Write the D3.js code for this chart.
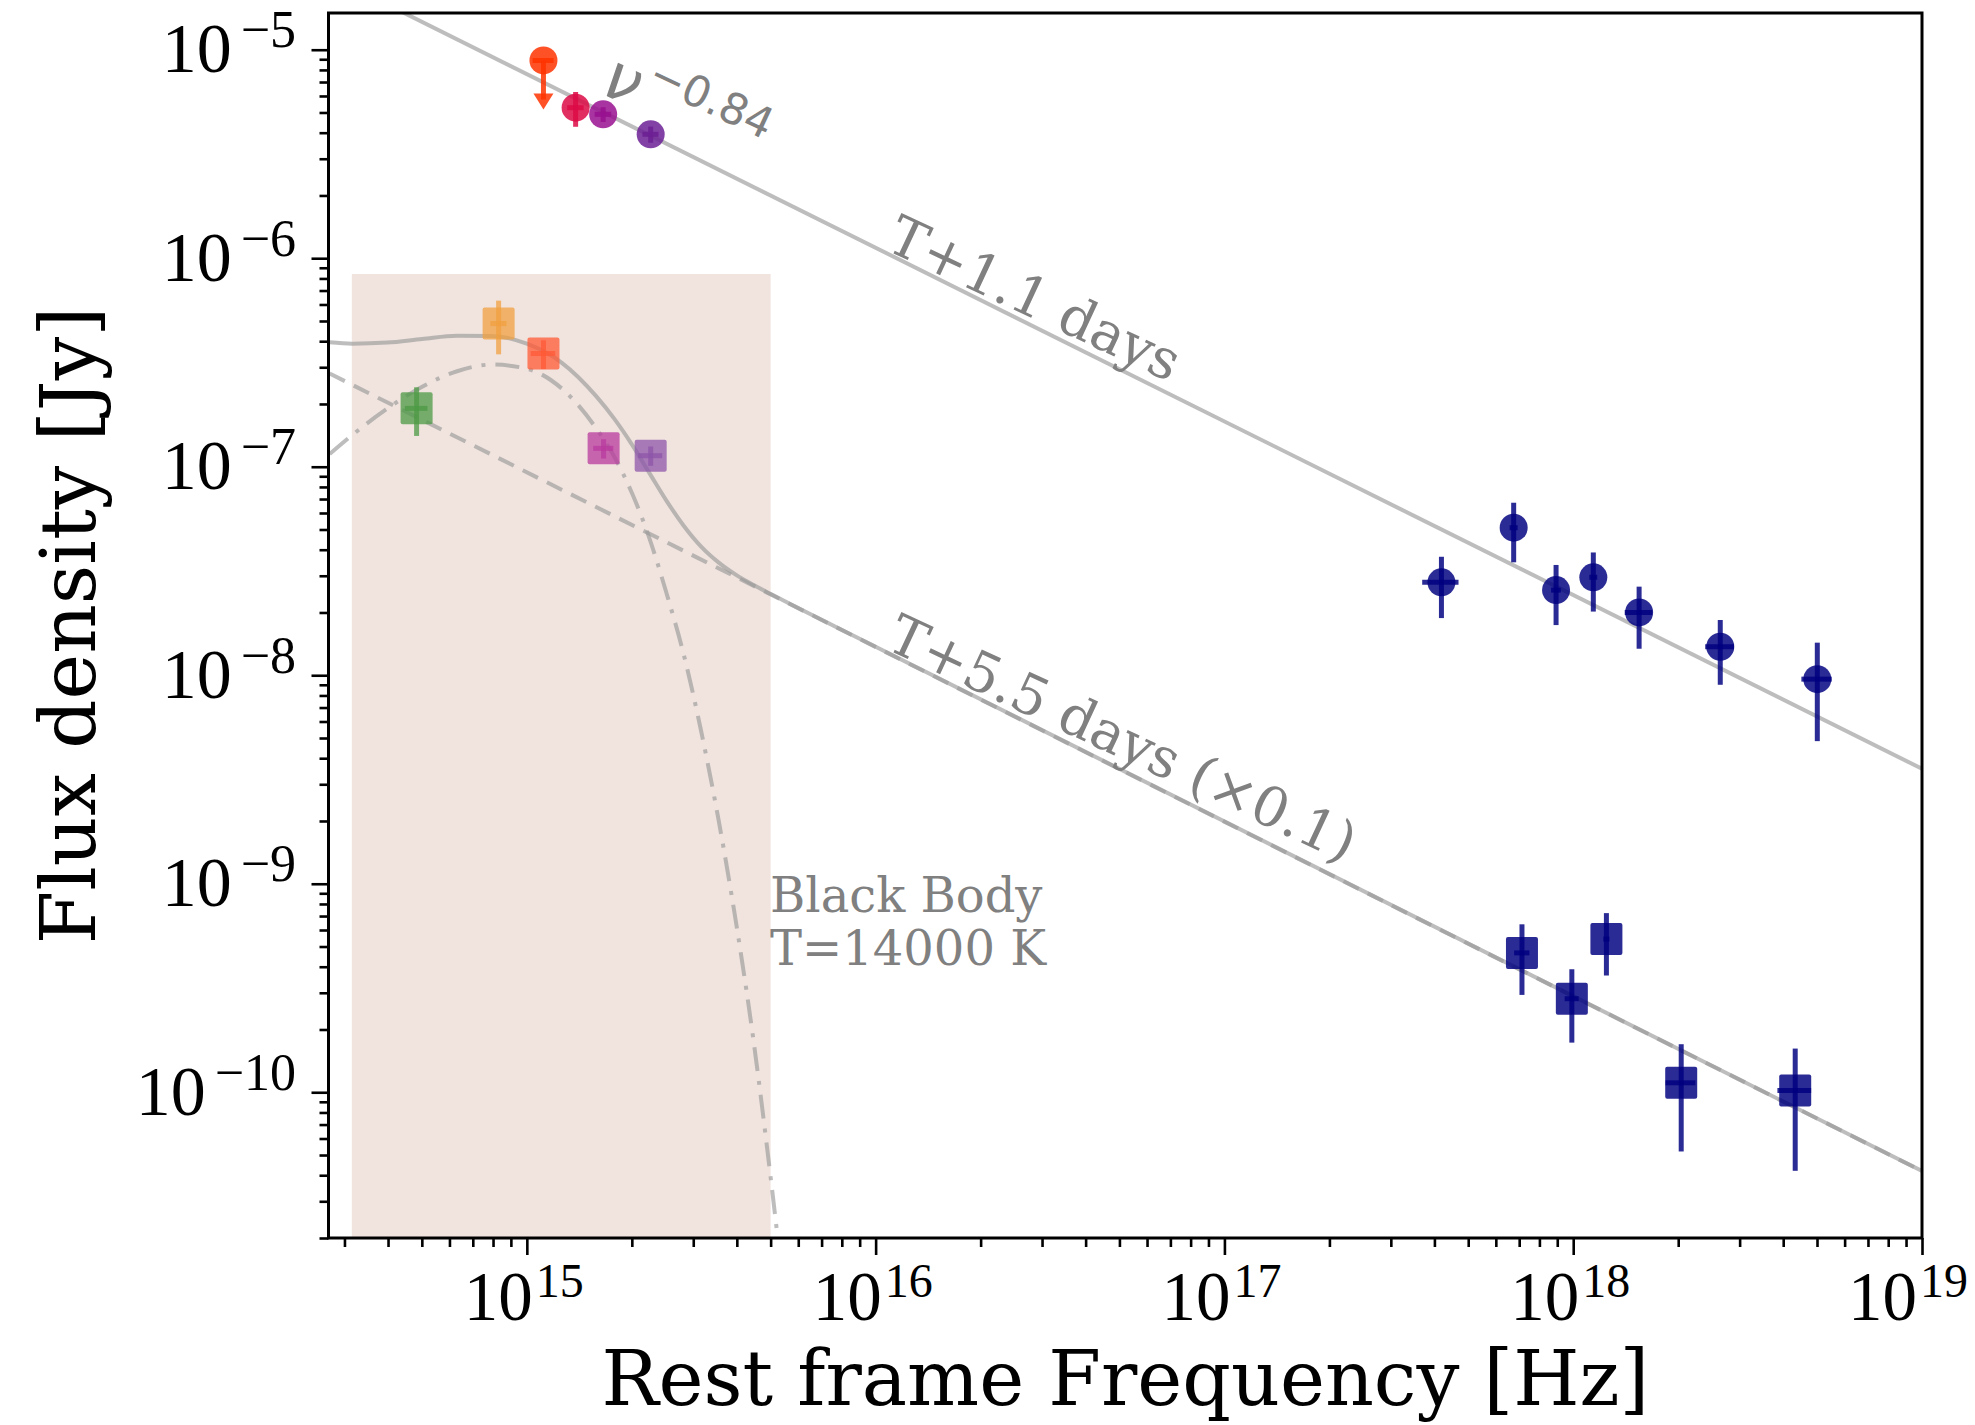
<!DOCTYPE html>
<html><head><meta charset="utf-8">
<script src="https://cdn.jsdelivr.net/npm/d3@7"></script>
<style>body{margin:0;background:#fff} svg{display:block}</style>
</head><body><svg id="c" width="1975" height="1425"></svg>
<script>
// ---------------- data ----------------
const xDomain = [2.7e14, 1e19];
const yDomain = [1.5e-5, 2e-11];
const xTickExps = [15, 16, 17, 18, 19];
const yTickExps = [-5, -6, -7, -8, -9, -10];

// optical / UV photometry, T+1.1 days (circles)
const optNu    = [1.116e15, 1.38e15, 1.655e15, 2.265e15];
const optFlux  = [8.88e-6, 5.27e-6, 4.90e-6, 3.93e-6];
const optErr   = [3.6e-6, 1.0e-6, 4.0e-7, 3.5e-7];
const optXErr  = [7.7e13, 7.5e13, 9.0e13, 1.2e14];
const optUL    = [true, false, false, false];
const optColor = ["#ff3300", "#dc0a46", "#98108f", "#6c2094"];

// optical / UV photometry, T+5.5 days (squares)
const lateNu    = [4.83e14, 8.30e14, 1.116e15, 1.66e15, 2.265e15];
const lateFlux  = [1.905e-7, 4.86e-7, 3.49e-7, 1.225e-7, 1.13e-7];
const lateErr   = [5.0e-8, 1.4e-7, 5.5e-8, 1.3e-8, 1.2e-8];
const lateXErr  = [3.6e13, 4.4e13, 9.0e13, 1.1e14, 1.8e14];
const lateColor = ["#4c9a44", "#f0a040", "#ff5a36", "#b8399e", "#8d55a8"];

// X-ray, T+1.1 days (circles)
const xr1Nu   = [4.19e17, 6.75e17, 8.93e17, 1.142e18, 1.545e18, 2.64e18, 5.01e18];
const xr1Flux = [2.79e-8, 5.10e-8, 2.56e-8, 2.95e-8, 2.00e-8, 1.37e-8, 9.58e-9];
const xr1Err  = [9.1e-9, 1.62e-8, 8.2e-9, 9.3e-9, 6.6e-9, 4.7e-9, 4.75e-9];
const xr1XErr = [5.0e16, 1.8e16, 2.9e16, 3.0e16, 1.4e17, 2.5e17, 5.0e17];

// X-ray, T+5.5 days x0.1 (squares)
const xr2Nu   = [7.13e17, 9.91e17, 1.245e18, 2.04e18, 4.33e18];
const xr2Flux = [4.66e-10, 2.81e-10, 5.43e-10, 1.11e-10, 1.02e-10];
const xr2Err  = [1.73e-10, 1.08e-10, 1.8e-10, 5.9e-11, 6.0e-11];
const xr2XErr = [3.6e16, 4.6e16, 2.5e16, 2.0e17, 4.8e17];

// model: power law T+1.1 days
const pl1Nu   = [2.72e14, 1e19];
const pl1Flux = [2.26e-5, 3.56e-9];
// model: power law T+5.5 days (x0.1)
const pl2Nu   = [2.72e14, 1e19];
const pl2Flux = [2.80e-7, 4.19e-11];
// model: black body T=14000 K
const bbNu   = [2.72e14, 3.16e14, 3.98e14, 5.01e14, 6.31e14, 7.94e14, 1.0e15, 1.26e15, 1.58e15, 1.78e15, 2.0e15, 2.24e15, 2.51e15, 2.82e15, 3.16e15, 3.55e15, 3.98e15, 4.47e15, 5.01e15, 5.37e15];
const bbFlux = [1.15e-7, 1.42e-7, 1.90e-7, 2.42e-7, 2.87e-7, 3.09e-7, 2.95e-7, 2.37e-7, 1.53e-7, 1.12e-7, 7.5e-8, 4.6e-8, 2.5e-8, 1.25e-8, 5.4e-9, 2.0e-9, 6.5e-10, 1.75e-10, 3.8e-11, 1.4e-11];
// model: total (power law + black body)
const totNu   = [2.72e14, 3.16e14, 3.98e14, 5.01e14, 6.31e14, 7.94e14, 1.0e15, 1.26e15, 1.58e15, 1.78e15, 2.0e15, 2.24e15, 2.51e15, 2.82e15, 3.16e15, 3.55e15, 3.98e15, 4.47e15, 5.01e15, 1.0e16, 1.0e19];
const totFlux = [3.95e-7, 3.89e-7, 3.94e-7, 4.10e-7, 4.25e-7, 4.24e-7, 3.89e-7, 3.15e-7, 2.18e-7, 1.70e-7, 1.28e-7, 9.4e-8, 6.9e-8, 5.2e-8, 4.14e-8, 3.47e-8, 3.03e-8, 2.71e-8, 2.45e-8, 1.37e-8, 4.19e-11];

// shaded black-body region
const bbRegionNu = [3.15e14, 5.0e15];
const bbRegionTop = 8.4e-7;

// ---------------- drawing ----------------
const svg = d3.select("#c");
const P = {l: 328.5, r: 1922, t: 13, b: 1238};
const x = d3.scaleLog().domain(xDomain).range([P.l, P.r]);
const y = d3.scaleLog().domain(yDomain).range([P.t, P.b]);

svg.append("rect").attr("width", 1975).attr("height", 1425).attr("fill", "#fff");
svg.append("defs").append("clipPath").attr("id", "clip")
  .append("rect").attr("x", P.l).attr("y", P.t).attr("width", P.r - P.l).attr("height", P.b - P.t);

const plotG = svg.append("g").attr("clip-path", "url(#clip)");

// shaded region
plotG.append("rect")
  .attr("x", x(bbRegionNu[0])).attr("width", x(bbRegionNu[1]) - x(bbRegionNu[0]))
  .attr("y", y(bbRegionTop)).attr("height", P.b - y(bbRegionTop))
  .attr("fill", "#f1e4df");

const lineGen = d3.line().x(d => x(d[0])).y(d => y(d[1]));
const curveGen = d3.line().x(d => x(d[0])).y(d => y(d[1])).curve(d3.curveMonotoneX);
const zip = (a, b) => a.map((v, i) => [v, b[i]]);
const LC = "#999999", LO = 0.65, LW = 4;

plotG.append("path").datum(zip(pl1Nu, pl1Flux)).attr("d", lineGen)
  .attr("fill", "none").attr("stroke", LC).attr("stroke-opacity", LO).attr("stroke-width", LW);
plotG.append("path").datum(zip(pl2Nu, pl2Flux)).attr("d", lineGen)
  .attr("fill", "none").attr("stroke", LC).attr("stroke-opacity", LO).attr("stroke-width", LW)
  .attr("stroke-dasharray", "17,10");
plotG.append("path").datum(zip(bbNu, bbFlux)).attr("d", curveGen)
  .attr("fill", "none").attr("stroke", LC).attr("stroke-opacity", LO).attr("stroke-width", LW)
  .attr("stroke-dasharray", "24,10,4,10");
plotG.append("path").datum(zip(totNu, totFlux)).attr("d", curveGen)
  .attr("fill", "none").attr("stroke", LC).attr("stroke-opacity", LO).attr("stroke-width", LW);

// points
const ptG = svg.append("g");
function errBars(nu, f, ye, xe, color, op) {
  ptG.append("line").attr("x1", x(nu)).attr("x2", x(nu))
    .attr("y1", y(f + ye)).attr("y2", y(Math.max(f - ye, 1e-13)))
    .attr("stroke", color).attr("stroke-opacity", op).attr("stroke-width", 5);
  ptG.append("line").attr("x1", x(nu - xe)).attr("x2", x(nu + xe))
    .attr("y1", y(f)).attr("y2", y(f))
    .attr("stroke", color).attr("stroke-opacity", op).attr("stroke-width", 5);
}
function circle(nu, f, color, op) {
  ptG.append("circle").attr("cx", x(nu)).attr("cy", y(f)).attr("r", 14)
    .attr("fill", color).attr("fill-opacity", op);
}
function square(nu, f, color, op) {
  const s = 32;
  ptG.append("rect").attr("x", x(nu) - s / 2).attr("y", y(f) - s / 2)
    .attr("width", s).attr("height", s).attr("rx", 2)
    .attr("fill", color).attr("fill-opacity", op);
}

// late optical squares
lateNu.forEach((nu, i) => {
  square(nu, lateFlux[i], lateColor[i], 0.75);
  errBars(nu, lateFlux[i], lateErr[i], lateXErr[i], lateColor[i], 0.75);
});
// early optical circles
optNu.forEach((nu, i) => {
  circle(nu, optFlux[i], optColor[i], 0.85);
  if (optUL[i]) {
    const cx = x(nu), y0 = y(optFlux[i]), y1 = y(optFlux[i] - optErr[i]);
    ptG.append("line").attr("x1", cx).attr("x2", cx).attr("y1", y0).attr("y2", y1 - 8)
      .attr("stroke", optColor[i]).attr("stroke-opacity", 0.85).attr("stroke-width", 5);
    ptG.append("line").attr("x1", x(nu - optXErr[i])).attr("x2", x(nu + optXErr[i])).attr("y1", y0).attr("y2", y0)
      .attr("stroke", optColor[i]).attr("stroke-opacity", 0.85).attr("stroke-width", 5);
    ptG.append("path").attr("d", `M${cx - 10},${y1 - 14} L${cx + 10},${y1 - 14} L${cx},${y1 + 2} Z`)
      .attr("fill", optColor[i]).attr("fill-opacity", 0.85);
  } else {
    errBars(nu, optFlux[i], optErr[i], optXErr[i], optColor[i], 0.85);
  }
});
// X-ray
xr1Nu.forEach((nu, i) => {
  circle(nu, xr1Flux[i], "#000080", 0.83);
  errBars(nu, xr1Flux[i], xr1Err[i], xr1XErr[i], "#000080", 0.83);
});
xr2Nu.forEach((nu, i) => {
  square(nu, xr2Flux[i], "#000080", 0.83);
  errBars(nu, xr2Flux[i], xr2Err[i], xr2XErr[i], "#000080", 0.83);
});

// ---------------- axes ----------------
function minorTicks(dom) {
  const out = [];
  const lo = Math.floor(Math.log10(Math.min(...dom))), hi = Math.ceil(Math.log10(Math.max(...dom)));
  for (let e = lo; e <= hi; e++) for (let m = 2; m <= 9; m++) {
    const v = m * Math.pow(10, e);
    if (v >= Math.min(...dom) && v <= Math.max(...dom)) out.push(v);
  }
  return out;
}
const xMajor = xTickExps.map(e => Math.pow(10, e));
const yMajor = yTickExps.map(e => Math.pow(10, e));

function styleAxis(g) {
  g.select(".domain").remove();
  g.selectAll(".tick line").attr("stroke", "#000").attr("stroke-width", 2.6);
  g.selectAll(".tick text").remove();
}
svg.append("g").attr("transform", `translate(0,${P.b})`)
  .call(d3.axisBottom(x).tickValues(minorTicks(xDomain)).tickSize(9).tickFormat(() => "")).call(styleAxis);
svg.append("g").attr("transform", `translate(0,${P.b})`)
  .call(d3.axisBottom(x).tickValues(xMajor).tickSize(17).tickFormat(() => "")).call(styleAxis);
svg.append("g").attr("transform", `translate(${P.l},0)`)
  .call(d3.axisLeft(y).tickValues(minorTicks(yDomain)).tickSize(9).tickFormat(() => "")).call(styleAxis);
svg.append("g").attr("transform", `translate(${P.l},0)`)
  .call(d3.axisLeft(y).tickValues(yMajor).tickSize(17).tickFormat(() => "")).call(styleAxis);

// tick labels
const TF = "'Liberation Serif', 'Times New Roman', serif";
xTickExps.forEach((e, i) => {
  const last = i === xTickExps.length - 1;
  const t = svg.append("text").attr("x", x(xMajor[i]) - (last ? 14 : 3)).attr("y", 1320)
    .attr("text-anchor", "middle").attr("font-family", TF).attr("fill", "#000");
  t.append("tspan").attr("font-size", 69).text("10");
  t.append("tspan").attr("font-size", 48).attr("dy", -23).attr("dx", 3).text(String(e));
});
yTickExps.forEach((e, i) => {
  const t = svg.append("text").attr("x", 296).attr("y", y(yMajor[i]) + 22.5)
    .attr("text-anchor", "end").attr("font-family", TF).attr("fill", "#000");
  t.append("tspan").attr("font-size", 70).text("10");
  t.append("tspan").attr("font-size", 52).attr("dy", -25).attr("dx", 9).text("\u2212" + String(Math.abs(e)));
});

// spines
svg.append("rect").attr("x", P.l).attr("y", P.t).attr("width", P.r - P.l).attr("height", P.b - P.t)
  .attr("fill", "none").attr("stroke", "#000").attr("stroke-width", 3);

// axis labels
const SF = "'DejaVu Serif', serif";
svg.append("text").attr("x", (P.l + P.r) / 2).attr("y", 1405).attr("text-anchor", "middle")
  .attr("font-family", SF).attr("font-size", 76).attr("fill", "#000").text("Rest frame Frequency [Hz]");
svg.append("text").attr("transform", `translate(95,${(P.t + P.b) / 2}) rotate(-90)`).attr("text-anchor", "middle")
  .attr("font-family", SF).attr("font-size", 77).attr("fill", "#000").text("Flux density [Jy]");

// annotations
const AC = "#808080";
const nuT = svg.append("text").attr("transform", "translate(598,92) rotate(25)")
  .attr("font-family", "'DejaVu Sans', sans-serif").attr("fill", AC);
nuT.append("tspan").attr("font-style", "italic").attr("font-size", 64).text("\u03BD");
nuT.append("tspan").attr("font-size", 43).attr("dy", -27).attr("dx", 4).text("\u22120.84");

svg.append("text").attr("transform", "translate(884,249) rotate(25)")
  .attr("font-family", SF).attr("font-size", 55).attr("fill", AC).text("T+1.1 days");
svg.append("text").attr("transform", "translate(884,648) rotate(25)")
  .attr("font-family", SF).attr("font-size", 55).attr("fill", AC).text("T+5.5 days (\u00D70.1)");

const bbT = svg.append("text").attr("font-family", SF).attr("font-size", 48).attr("fill", AC);
bbT.append("tspan").attr("x", 770).attr("y", 912).text("Black Body");
bbT.append("tspan").attr("x", 770).attr("y", 965).text("T=14000 K");
</script></body></html>
